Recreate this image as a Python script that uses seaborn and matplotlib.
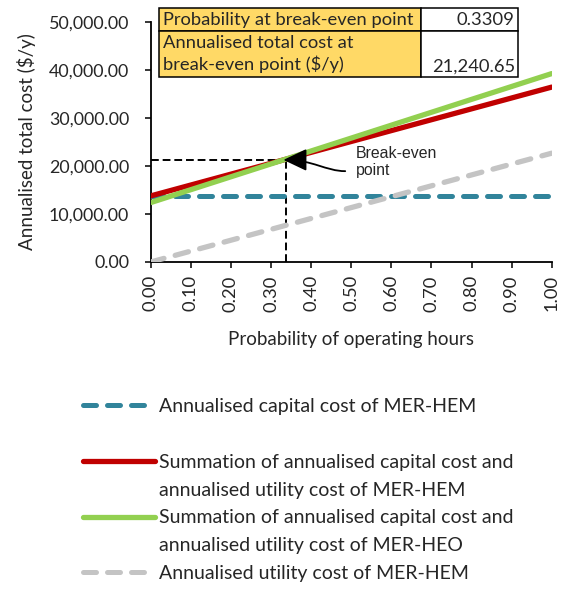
import pandas as pd
import seaborn as sns
import matplotlib.pyplot as plt
from matplotlib.lines import Line2D
from matplotlib.patches import Rectangle, FancyArrowPatch
from matplotlib.path import Path
from matplotlib.ticker import FuncFormatter

# Values (all series are straight lines, so the two ends)
prob = [0.0, 1.0]
capital_hem = [13750, 13750]
total_hem = [13750, 36390]
total_heo = [12360, 39200]
utility_hem = [0, 22640]

# break-even info shown in the table
be_prob = 0.3309
be_cost = 21240.65
guide_x = 0.338

x_ticks = [0.0, 0.1, 0.2, 0.3, 0.4, 0.5, 0.6, 0.7, 0.8, 0.9, 1.0]
y_ticks = [0, 10000, 20000, 30000, 40000, 50000]

lbl_capital = "Annualised capital cost of MER-HEM"
lbl_hem = ["Summation of annualised capital cost and", "annualised utility cost of MER-HEM"]
lbl_heo = ["Summation of annualised capital cost and", "annualised utility cost of MER-HEO"]
lbl_utility = "Annualised utility cost of MER-HEM"

table_rows = [["Probability at break-even point", "0.3309"],
              ["Annualised total cost at\nbreak-even point ($/y)", "21,240.65"]]

teal = "#31849B"
red = "#C00000"
green = "#92D050"
grey = "#C4C4C4"
gold = "#FFD966"

sns.set_theme(style="ticks")
plt.rcParams['font.family'] = ['Lato', 'DejaVu Sans']
fs = 13.5

df = pd.DataFrame({"prob": prob, "capital": capital_hem, "hem": total_hem,
                   "heo": total_heo, "utility": utility_hem})

fig = plt.figure(figsize=(5.66, 5.89), dpi=100)
ax = fig.add_axes([0.2663, 0.5552, 0.7085, 0.408])

dash = (0, (2.6, 2.2))
sns.lineplot(data=df, x="prob", y="capital", ax=ax, color=teal, linewidth=3.6,
             linestyle=dash, dash_capstyle="round", legend=False, zorder=3)
sns.lineplot(data=df, x="prob", y="hem", ax=ax, color=red, linewidth=3.8,
             legend=False, zorder=4)
sns.lineplot(data=df, x="prob", y="heo", ax=ax, color=green, linewidth=3.8,
             legend=False, zorder=5)
sns.lineplot(data=df, x="prob", y="utility", ax=ax, color=grey, linewidth=3.8,
             linestyle=dash, dash_capstyle="round", legend=False, zorder=6)

# guide lines to the break-even point
ax.plot([0, guide_x], [be_cost, be_cost], color="black", lw=1.4,
        linestyle=(0, (4, 2)), zorder=2)
ax.plot([guide_x, guide_x], [0, be_cost], color="black", lw=1.4,
        linestyle=(0, (4, 2)), zorder=2)

# callout: text plus an S-shaped arrow ending on the break-even point
ax.text(0.512, 20800, "Break-even\npoint", fontsize=11.4, family="Liberation Sans",
        ha="left", va="center", zorder=7)
curve = Path([(0.485, 18900), (0.437, 18900), (0.405, be_cost), (be_prob, be_cost)],
             [Path.MOVETO, Path.CURVE4, Path.CURVE4, Path.CURVE4])
ax.add_patch(FancyArrowPatch(path=curve, arrowstyle="-|>,head_length=0.8,head_width=0.38",
                             mutation_scale=18, color="black", lw=1.3, zorder=7))

ax.set_xlim(0, 1)
ax.set_ylim(0, 50000)
ax.set_xticks(x_ticks)
ax.set_yticks(y_ticks)
ax.xaxis.set_major_formatter(FuncFormatter(lambda v, p: f"{v:.2f}"))
ax.yaxis.set_major_formatter(FuncFormatter(lambda v, p: f"{v:,.2f}"))
ax.tick_params(axis="x", labelrotation=90, labelsize=13.2, length=4.5, width=1.1,
               color="black", pad=5)
ax.tick_params(axis="y", labelsize=12.9, length=4.5, width=1.1, color="black", pad=11)
ax.set_xlabel("Probability of operating hours", fontsize=fs, labelpad=14)
ax.set_ylabel("Annualised total cost ($/y)", fontsize=fs, labelpad=9)
sns.despine(ax=ax)
for s in ["left", "bottom"]:
    ax.spines[s].set_color("black")
    ax.spines[s].set_linewidth(1.3)

# table in the top-left corner (axes coordinates)
col_x = [0.0207, 0.675, 0.916]
row_y = [1.057, 0.961, 0.769]
for r in range(2):
    for c in range(2):
        x0, x1 = col_x[c], col_x[c + 1]
        y1, y0 = row_y[r], row_y[r + 1]
        ax.add_patch(Rectangle((x0, y0), x1 - x0, y1 - y0, transform=ax.transAxes,
                               facecolor=gold if c == 0 else "white",
                               edgecolor="black", lw=1.1, clip_on=False, zorder=8))
        if c == 0:
            ax.text(x0 + 0.009, (y0 + y1) / 2, table_rows[r][c], transform=ax.transAxes,
                    ha="left", va="center", fontsize=13.2, linespacing=1.3, zorder=9)
        else:
            ty = (y0 + y1) / 2 if r == 0 else y0 + 0.045
            ax.text(x1 - 0.008, ty, table_rows[r][c], transform=ax.transAxes,
                    ha="right", va="center", fontsize=13.2, zorder=9)

# legend: handles sit on the first line of each label
handles = [
    Line2D([], [], color=teal, lw=3.6, linestyle=dash, dash_capstyle="round"),
    Line2D([], [], linestyle="none"),
    Line2D([], [], color=red, lw=3.8, solid_capstyle="round"),
    Line2D([], [], linestyle="none"),
    Line2D([], [], color=green, lw=3.8, solid_capstyle="round"),
    Line2D([], [], linestyle="none"),
    Line2D([], [], color=grey, lw=3.6, linestyle=dash, dash_capstyle="round"),
]
texts = [lbl_capital, " ", lbl_hem[0], lbl_hem[1], lbl_heo[0], lbl_heo[1], lbl_utility]
fig.legend(handles, texts, loc="upper left", bbox_to_anchor=(0.1466, 0.3245),
           frameon=False, fontsize=14, handlelength=3.7, handletextpad=0.22,
           labelspacing=0.56, borderpad=0, borderaxespad=0)

fig.savefig("out.png", dpi=100)
